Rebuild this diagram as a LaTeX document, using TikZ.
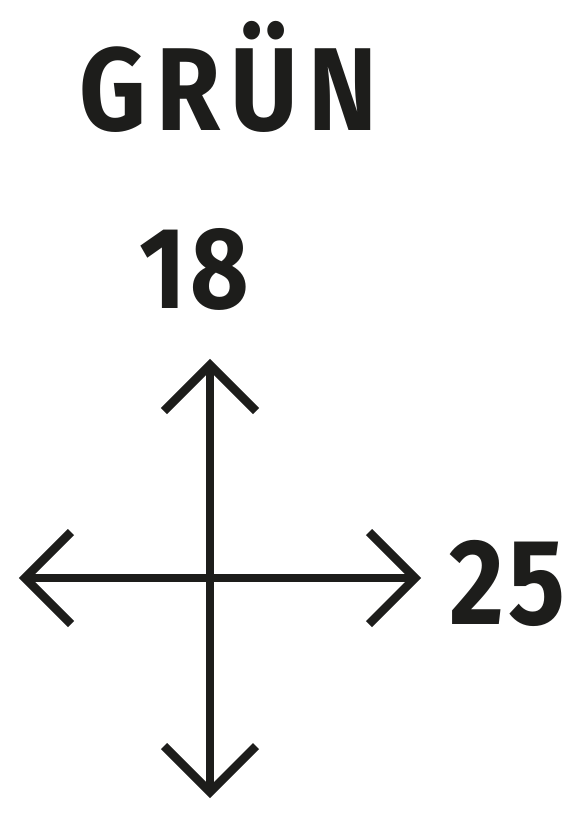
\documentclass[tikz,border=0pt]{standalone}
\usepackage{fontspec}
\newfontfamily\dinfont[LetterSpace=9,FakeStretch=0.88]{Fira Sans}
\newfontfamily\dinnum[LetterSpace=4,FakeStretch=0.87]{Fira Sans}
\definecolor{ink}{HTML}{1D1D1B}
\begin{document}
\begin{tikzpicture}[x=1pt,y=-1pt,
  lbl/.style={inner sep=0pt, anchor=base west, text=ink},
  arm/.style={draw=ink, line width=8.5pt, miter limit=10, line join=miter},
  axis/.style={draw=ink, line width=7.5pt}]
\useasboundingbox (0,0) rectangle (583,825);
\node[lbl, font=\dinfont\fontsize{118}{118}\selectfont\bfseries] (title) at (79,130) {GRÜN};
\node[lbl, font=\dinnum\fontsize{116}{116}\selectfont\bfseries] (n18) at (139,308) {18};
\node[lbl, font=\dinnum\fontsize{122}{122}\selectfont\bfseries] (n25) at (449,624) {25};
\coordinate (top) at (210,365);
\coordinate (bot) at (210,792);
\coordinate (lft) at (25,578);
\coordinate (rgt) at (415,578);
\draw[axis] (top) -- (bot);
\draw[axis] (lft) -- (rgt);
\draw[arm] ([shift={(-46,46)}]top) -- (top) -- ([shift={(46,46)}]top);
\draw[arm] ([shift={(-46,-46)}]bot) -- (bot) -- ([shift={(46,-46)}]bot);
\draw[arm] ([shift={(46,-46)}]lft) -- (lft) -- ([shift={(46,46)}]lft);
\draw[arm] ([shift={(-46,-46)}]rgt) -- (rgt) -- ([shift={(-46,46)}]rgt);
\end{tikzpicture}
\end{document}
